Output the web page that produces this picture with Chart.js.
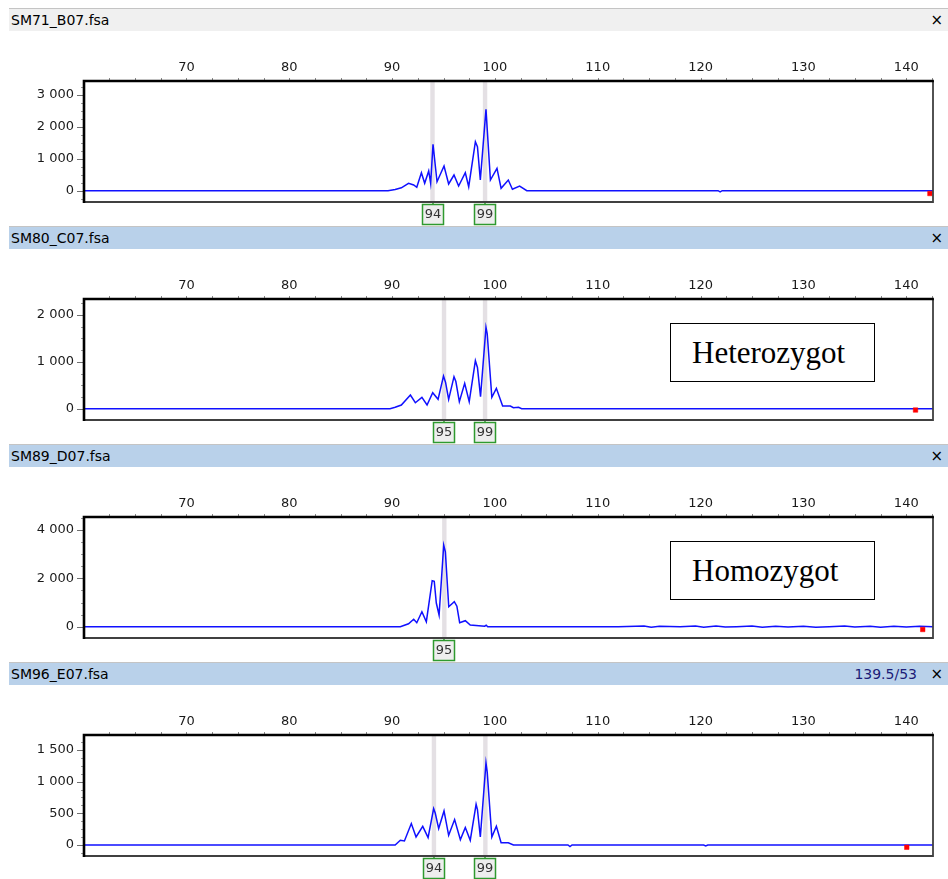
<!DOCTYPE html>
<html><head><meta charset="utf-8">
<script src="https://cdn.jsdelivr.net/npm/chart.js@4.4.1/dist/chart.umd.min.js"></script>
<style>
html,body{margin:0;padding:0;background:#fff;}
body{width:948px;height:879px;position:relative;overflow:hidden;font-family:"DejaVu Sans",sans-serif;}
.hline{position:absolute;left:9px;right:0;height:1px;background:#c4c4c4;}
.hdr{position:absolute;left:9px;right:0;height:22px;font-size:14px;line-height:22px;color:#000;}
.hdr .name{position:absolute;left:2px;top:0;}
.hdr .close{position:absolute;right:5px;top:0;font-size:15px;}
.hdr .info{position:absolute;right:31px;top:0;color:#1c1c78;}
.cw{position:absolute;left:0;width:948px;height:194px;}
.note{position:absolute;left:670px;width:205px;height:59px;border:1px solid #000;background:#fff;font-family:"Liberation Serif",serif;font-size:31px;line-height:58px;padding-left:21px;box-sizing:border-box;color:#000;}
</style></head>
<body>
<div id="root"></div>
<script>
// ---------- data ----------
const sampleNames = ['SM71_B07.fsa', 'SM80_C07.fsa', 'SM89_D07.fsa', 'SM96_E07.fsa'];
const headerInfo = ['', '', '', '139.5/53'];

const p1X = [60, 89.6, 90.3, 90.9, 91.6, 92.1, 92.4, 92.85, 93.17, 93.56, 93.75, 93.98, 94.37, 95.05, 95.5, 96.02, 96.47, 97.12, 97.45, 98.1, 98.3, 98.58, 99.13, 99.56, 100.2, 100.6, 101.3, 101.7, 102.4, 103.1, 121.7, 121.9, 122.1, 142.6];
const p1Y = [0, 0, 40, 90, 232, 179, 107, 564, 232, 620, 232, 1455, 282, 774, 210, 492, 147, 564, 125, 1536, 1380, 335, 2550, 335, 702, 75, 335, 44, 147, 0, 0, -40, 0, 0];

const p2X = [60, 89.8, 90.3, 90.9, 91.78, 92.26, 92.9, 93.4, 93.95, 94.47, 95.0, 95.2, 95.5, 96.02, 96.2, 96.54, 97.06, 97.5, 98.1, 98.3, 98.6, 99.13, 99.25, 99.7, 100.14, 100.75, 101.5, 101.8, 102.3, 102.6, 142.6];
const p2Y = [0, 0, 30, 79, 292, 128, 243, 79, 341, 200, 698, 560, 200, 683, 580, 149, 542, 149, 1025, 880, 256, 1737, 1600, 243, 435, 58, 58, 20, 30, 0, 0];

const p3X = [60, 90.8, 91.6, 92.1, 92.4, 92.9, 93.33, 93.9, 94.1, 94.3, 94.57, 95.02, 95.18, 95.51, 96.05, 96.3, 96.57, 97.12, 97.6, 99.0, 99.15, 99.3, 112, 114.5, 115.2, 116, 118, 119.5, 120.3, 121.5, 122.4, 123.5, 125, 126, 127.3, 128.5, 130, 131.2, 132.5, 134, 135, 136.5, 137.5, 138.8, 140, 141.3, 142.6];
const p3Y = [0, 0, 120, 306, 165, 620, 207, 1900, 1880, 980, 483, 3376, 3100, 826, 1033, 850, 165, 248, 70, 20, 60, 0, 0, 30, -20, 15, 0, 25, -20, 30, -15, 0, 25, -25, 20, -15, 15, -20, 0, 25, -15, 20, -20, 15, -10, 20, 0];

const p4X = [60, 90.3, 90.8, 91.2, 91.87, 92.33, 92.98, 93.5, 94.04, 94.2, 94.53, 95.05, 95.5, 96.08, 96.64, 97.12, 97.6, 98.17, 98.3, 98.58, 99.13, 99.25, 99.7, 100.14, 100.6, 101.3, 101.8, 107.1, 107.3, 107.5, 120.3, 120.5, 120.7, 142.6];
const p4Y = [0, 0, 74, 63, 338, 126, 295, 117, 575, 500, 259, 537, 153, 401, 85, 275, 74, 643, 560, 126, 1295, 1150, 126, 295, 36, 36, 0, 0, -25, 0, 0, -15, 0, 0];

const traceX = [p1X, p2X, p3X, p4X];
const traceY = [p1Y, p2Y, p3Y, p4Y];

const alleleSizes = [[93.93, 99.04], [95.05, 99.04], [95.08], [94.07, 99.07]];
const alleleLabels = [['94', '99'], ['95', '99'], ['95'], ['94', '99']];

const markerX = [142.3, 140.9, 141.6, 140.05];
const markerY = [-88, -28, -115, -36];

const yMinV = [-354, -241, -467, -174];
const yMaxV = [3439, 2341, 4537, 1737];
const yTicks = [[0, 1000, 2000, 3000], [0, 1000, 2000], [0, 2000, 4000], [0, 500, 1000, 1500]];
const yStep = [1000, 1000, 2000, 500];
const yMinor = [250, 250, 500, 125];
const xMinV = 60.04, xMaxV = 142.6;
const xTicks = [70, 80, 90, 100, 110, 120, 130, 140];
const xMinor = 2.5;

const noteText = [null, 'Heterozygot', 'Homozygot', null];
const noteTop = [0, 323, 541, 0];

// ---------- layout ----------
const PITCH = 218, TOP0 = 8;
const root = document.getElementById('root');

function fmt(v) { return String(v).replace(/\B(?=(\d{3})+(?!\d))/g, ' '); }

const decor = {
  id: 'decor',
  beforeDatasetsDraw(chart, args, o) {
    const {ctx, chartArea: a, scales: {x}} = chart;
    ctx.save();
    ctx.fillStyle = '#e4e0e4';
    o.sizes.forEach(v => {
      const px = x.getPixelForValue(v);
      ctx.fillRect(px - 2.2, a.top, 4.4, a.bottom - a.top);
    });
    ctx.restore();
  },
  afterDraw(chart, args, o) {
    const {ctx, chartArea: a, scales: {x, y}} = chart;
    ctx.save();
    ctx.strokeStyle = '#8a8a8a';
    ctx.lineWidth = 1;
    for (let v = Math.ceil(x.min / xMinor) * xMinor; v <= x.max; v += xMinor) {
      const px = Math.round(x.getPixelForValue(v)) + 0.5;
      ctx.beginPath(); ctx.moveTo(px, a.top - 3); ctx.lineTo(px, a.top); ctx.stroke();
    }
    for (let v = Math.ceil(y.min / o.minor) * o.minor; v <= y.max; v += o.minor) {
      const py = Math.round(y.getPixelForValue(v)) + 0.5;
      const major = Math.abs(v % o.step) < 1e-6;
      ctx.strokeStyle = major ? '#707070' : '#9a9a9a';
      ctx.beginPath(); ctx.moveTo(a.left - (major ? 7 : 3), py); ctx.lineTo(a.left, py); ctx.stroke();
    }
    ctx.strokeStyle = '#404040';
    ctx.lineWidth = 1.8;
    ctx.beginPath();
    ctx.moveTo(a.right, a.top); ctx.lineTo(a.right, a.bottom); ctx.lineTo(a.left, a.bottom);
    ctx.stroke();
    ctx.strokeStyle = '#000';
    ctx.lineWidth = 2.6;
    ctx.beginPath();
    ctx.moveTo(a.left, a.bottom + 0.9); ctx.lineTo(a.left, a.top); ctx.lineTo(a.right + 0.9, a.top);
    ctx.stroke();
    ctx.font = '13px "DejaVu Sans"';
    ctx.textAlign = 'center';
    ctx.textBaseline = 'middle';
    o.sizes.forEach((v, i) => {
      const px = Math.round(x.getPixelForValue(v));
      ctx.strokeStyle = '#2f9a2f';
      ctx.lineWidth = 1.5;
      ctx.beginPath(); ctx.moveTo(px, a.bottom + 1); ctx.lineTo(px, a.bottom + 3); ctx.stroke();
      ctx.fillStyle = '#eeeeee';
      ctx.fillRect(px - 10.5, a.bottom + 2.5, 21, 20);
      ctx.strokeRect(px - 10.5, a.bottom + 2.5, 21, 20);
      ctx.fillStyle = '#333';
      ctx.fillText(o.labels[i], px, a.bottom + 13);
    });
    ctx.restore();
  }
};

for (let i = 0; i < 4; i++) {
  const H = TOP0 + PITCH * i;
  const hl = document.createElement('div');
  hl.className = 'hline'; hl.style.top = H + 'px';
  root.appendChild(hl);
  const hd = document.createElement('div');
  hd.className = 'hdr'; hd.style.top = (H + 1) + 'px';
  hd.style.background = i === 0 ? '#f0f0f0' : '#b9d1ea';
  hd.innerHTML = '<span class="name">' + sampleNames[i] + '</span>' +
    (headerInfo[i] ? '<span class="info">' + headerInfo[i] + '</span>' : '') +
    '<span class="close">×</span>';
  root.appendChild(hd);

  const cw = document.createElement('div');
  cw.className = 'cw'; cw.style.top = (H + 24) + 'px';
  const cv = document.createElement('canvas');
  cv.width = 948; cv.height = 194;
  cv.style.width = '948px'; cv.style.height = '194px';
  cw.appendChild(cv);
  root.appendChild(cw);

  const pts = traceX[i].map((v, k) => ({x: v, y: traceY[i][k]}));
  const yt = yTicks[i];

  new Chart(cv.getContext('2d'), {
    type: 'line',
    data: {
      datasets: [
        {data: pts, borderColor: '#1010ff', borderWidth: 1.5, pointRadius: 0, tension: 0, fill: false, order: 2},
        {type: 'scatter', data: [{x: markerX[i], y: markerY[i]}], pointStyle: 'rect', pointRadius: 3.2,
         backgroundColor: '#ff0000', borderColor: '#ff0000', borderWidth: 0.5, order: 1}
      ]
    },
    options: {
      responsive: false,
      animation: false,
      events: [],
      layout: {padding: {left: 0, top: 0, right: 15, bottom: 24}},
      plugins: {legend: {display: false}, tooltip: {enabled: false},
        decor: {sizes: alleleSizes[i], labels: alleleLabels[i], step: yStep[i], minor: yMinor[i]}},
      scales: {
        x: {
          type: 'linear', position: 'top', min: xMinV, max: xMaxV,
          grid: {display: false, drawTicks: false}, border: {display: false},
          ticks: {autoSkip: false, maxRotation: 0, padding: 6,
            color: '#1a1a1a', font: {family: 'DejaVu Sans', size: 13}},
          afterBuildTicks: s => { s.ticks = xTicks.map(v => ({value: v})); },
          afterFit: s => { s.height = 49; }
        },
        y: {
          type: 'linear', position: 'left', min: yMinV[i], max: yMaxV[i],
          grid: {display: false, drawTicks: false}, border: {display: false},
          ticks: {autoSkip: false, padding: 10,
            color: '#1a1a1a', font: {family: 'DejaVu Sans', size: 13}, callback: v => fmt(v)},
          afterBuildTicks: s => { s.ticks = yt.map(v => ({value: v})); },
          afterFit: s => { s.width = 84; }
        }
      }
    },
    plugins: [decor]
  });

  if (noteText[i]) {
    const n = document.createElement('div');
    n.className = 'note'; n.style.top = noteTop[i] + 'px';
    n.textContent = noteText[i];
    root.appendChild(n);
  }
}
</script>
</body></html>
